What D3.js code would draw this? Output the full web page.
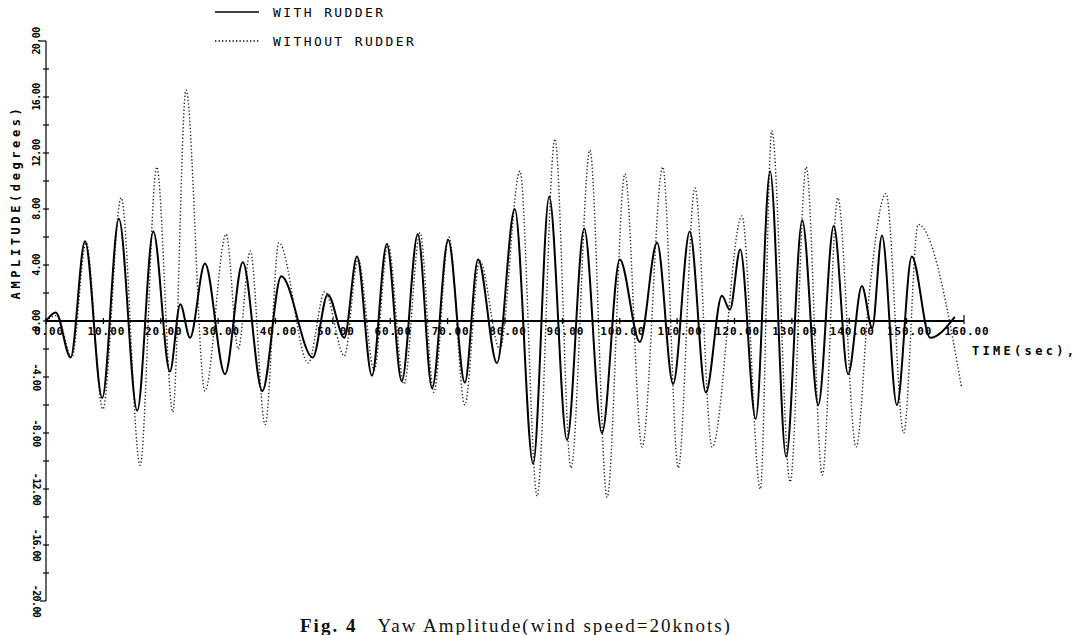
<!DOCTYPE html>
<html>
<head>
<meta charset="utf-8">
<script src="https://cdn.jsdelivr.net/npm/d3@7"></script>
<style>
  body { margin: 0; background: #fff; }
  .plot { font-family: "DejaVu Sans Mono", monospace; font-weight: bold; fill: #000; }
  .caption { font-family: "Liberation Serif", "DejaVu Serif", serif; fill: #111; }
</style>
</head>
<body>
<svg width="1081" height="635"></svg>
<script>
// extrema (time in sec, amplitude in degrees)
const withTime = [0, 1.7, 4.3, 6.8, 9.8, 12.7, 15.9, 18.7, 21.6, 23.4, 25.1, 27.7, 31.2, 34.3, 37.7, 41.0,
  46.5, 49.1, 52.0, 54.2, 56.8, 59.4, 62.0, 64.8, 67.3, 70.1, 73.0, 75.3, 78.6, 81.7, 84.9, 87.7,
  90.8, 93.8, 96.9, 100.0, 103.5, 106.5, 109.3, 112.2, 115.0, 117.8, 119.2, 121.0, 123.7, 126.2,
  129.0, 131.8, 134.6, 137.3, 139.8, 142.2, 144.0, 145.7, 148.3, 150.9, 154.1, 158.4];
const withVal = [0, 0.6, -2.6, 5.7, -5.5, 7.3, -6.4, 6.4, -3.6, 1.2, -1.2, 4.1, -3.8, 4.2, -5.0, 3.2,
  -2.6, 1.9, -1.2, 4.6, -3.9, 5.5, -4.3, 6.2, -4.8, 5.8, -4.4, 4.4, -3.0, 8.0, -10.2, 8.9,
  -8.5, 6.6, -8.0, 4.4, -1.5, 5.6, -4.5, 6.4, -5.1, 1.8, 0.8, 5.1, -7.0, 10.7,
  -9.7, 7.2, -6.0, 6.8, -3.8, 2.5, -0.5, 6.1, -6.0, 4.6, -1.2, 0.3];

const withoutTime = [0, 1.9, 4.5, 7.0, 9.9, 13.1, 16.4, 19.3, 22.1, 24.4, 27.7, 31.4, 33.5, 35.6, 38.2, 40.6,
  45.7, 48.6, 52.0, 54.4, 57.2, 59.6, 62.4, 65.2, 67.6, 70.2, 73.0, 75.6, 79.1, 82.6, 85.6, 88.7,
  91.5, 94.8, 97.8, 100.9, 103.9, 107.5, 110.2, 113.1, 116.1, 121.3, 124.5, 126.5, 129.7, 132.5,
  135.3, 138.0, 141.2, 143.5, 146.4, 149.5, 152.0, 159.6];
const withoutVal = [0, 0.4, -2.6, 5.6, -6.3, 8.8, -10.3, 11.0, -6.5, 16.5, -5.0, 6.2, -2.0, 5.0, -7.4, 5.6,
  -3.0, 2.1, -2.5, 4.4, -3.5, 5.5, -4.5, 6.3, -5.1, 6.0, -6.0, 4.3, -2.0, 10.7, -12.5, 13.0,
  -10.5, 12.2, -12.6, 10.5, -9.0, 11.0, -10.5, 9.5, -9.0, 7.5, -12.0, 13.6, -11.5, 11.0,
  -11.0, 8.8, -9.0, 2.0, 9.1, -8.0, 6.9, -4.8];

const xTicks = [0, 10, 20, 30, 40, 50, 60, 70, 80, 90, 100, 110, 120, 130, 140, 150, 160];
const yTicks = [20, 16, 12, 8, 4, 0, -4, -8, -12, -16, -20];
const seriesNames = ["WITH RUDDER", "WITHOUT RUDDER"];

const svg = d3.select("svg");
const x = d3.scaleLinear().domain([0, 160]).range([46, 964]);
const y = d3.scaleLinear().domain([-20, 20]).range([601, 41]);

const withData = withTime.map((t, i) => ({ t: t, v: withVal[i] }));
const withoutData = withoutTime.map((t, i) => ({ t: t, v: withoutVal[i] }));

const line = d3.line()
  .x(d => x(d.t))
  .y(d => y(d.v))
  .curve(d3.curveMonotoneX);

// without rudder (dotted)
svg.append("path")
  .attr("d", line(withoutData))
  .attr("fill", "none")
  .attr("stroke", "#222")
  .attr("stroke-width", 1.4)
  .attr("stroke-dasharray", "1.3,2.2");

// with rudder (solid)
svg.append("path")
  .attr("d", line(withData))
  .attr("fill", "none")
  .attr("stroke", "#000")
  .attr("stroke-width", 2);

// y axis
svg.append("line")
  .attr("x1", x(0)).attr("x2", x(0))
  .attr("y1", y(20)).attr("y2", y(-20))
  .attr("stroke", "#000").attr("stroke-width", 1.2);

const yMinor = d3.range(-20, 21, 2);
svg.selectAll(".ytick")
  .data(yMinor)
  .enter()
  .append("line")
  .attr("x1", d => Math.abs(d) == 20 ? x(0) - 6 : x(0) - 3)
  .attr("x2", d => Math.abs(d) == 20 ? x(0) : x(0) + 3)
  .attr("y1", d => y(d))
  .attr("y2", d => y(d))
  .attr("stroke", "#000")
  .attr("stroke-width", 1.2);

svg.selectAll(".ylabel")
  .data(yTicks)
  .enter()
  .append("text")
  .attr("class", "plot")
  .attr("transform", d => "translate(36," + y(d) + ") rotate(" + (d < 0 ? 90 : -90) + ")")
  .attr("text-anchor", "middle")
  .attr("dominant-baseline", "central")
  .attr("font-size", 10)
  .attr("letter-spacing", -0.6)
  .text(d => d.toFixed(2));

svg.append("text")
  .attr("class", "plot")
  .attr("transform", "translate(16,202) rotate(-90)")
  .attr("text-anchor", "middle")
  .attr("dominant-baseline", "central")
  .attr("font-size", 12)
  .attr("letter-spacing", 3.6)
  .text("AMPLITUDE(degrees)");

// x axis
svg.append("line")
  .attr("x1", x(0)).attr("x2", x(160))
  .attr("y1", y(0)).attr("y2", y(0))
  .attr("stroke", "#000").attr("stroke-width", 2);

svg.selectAll(".xtick")
  .data(xTicks)
  .enter()
  .append("line")
  .attr("x1", d => x(d)).attr("x2", d => x(d))
  .attr("y1", d => d == 160 ? y(0) - 6 : y(0) - 3)
  .attr("y2", d => y(0) + 3)
  .attr("stroke", "#000")
  .attr("stroke-width", 1.2);

svg.selectAll(".xlabel")
  .data(xTicks)
  .enter()
  .append("text")
  .attr("class", "plot")
  .attr("x", d => x(d) + 3)
  .attr("y", y(0) + 14)
  .attr("text-anchor", "middle")
  .attr("font-size", 11)
  .attr("letter-spacing", 0.9)
  .text(d => d.toFixed(2));

svg.append("text")
  .attr("class", "plot")
  .attr("x", 972)
  .attr("y", 355)
  .attr("font-size", 12)
  .attr("letter-spacing", 3.3)
  .text("TIME(sec),");

// legend
const legend = svg.selectAll(".legend")
  .data(seriesNames)
  .enter()
  .append("g")
  .attr("transform", (d, i) => "translate(215," + (12 + i * 29) + ")");

legend.append("line")
  .attr("x1", 0).attr("x2", 44)
  .attr("y1", 0).attr("y2", 0)
  .attr("stroke", "#000")
  .attr("stroke-width", (d, i) => i == 0 ? 1.6 : 1.3)
  .attr("stroke-dasharray", (d, i) => i == 0 ? null : "1.3,2.2");

legend.append("text")
  .attr("class", "plot")
  .attr("x", 58)
  .attr("y", 5)
  .attr("font-size", 13)
  .style("font-weight", "normal")
  .attr("letter-spacing", 2.4)
  .text(d => d);

// caption
const caption = svg.append("text")
  .attr("class", "caption")
  .attr("x", 300)
  .attr("y", 632)
  .attr("font-size", 19)
  .attr("letter-spacing", 2);
caption.append("tspan").attr("font-weight", "bold").text("Fig. 4");
caption.append("tspan").attr("dx", 20).text("Yaw Amplitude(wind speed=20knots)");
</script>
</body>
</html>
